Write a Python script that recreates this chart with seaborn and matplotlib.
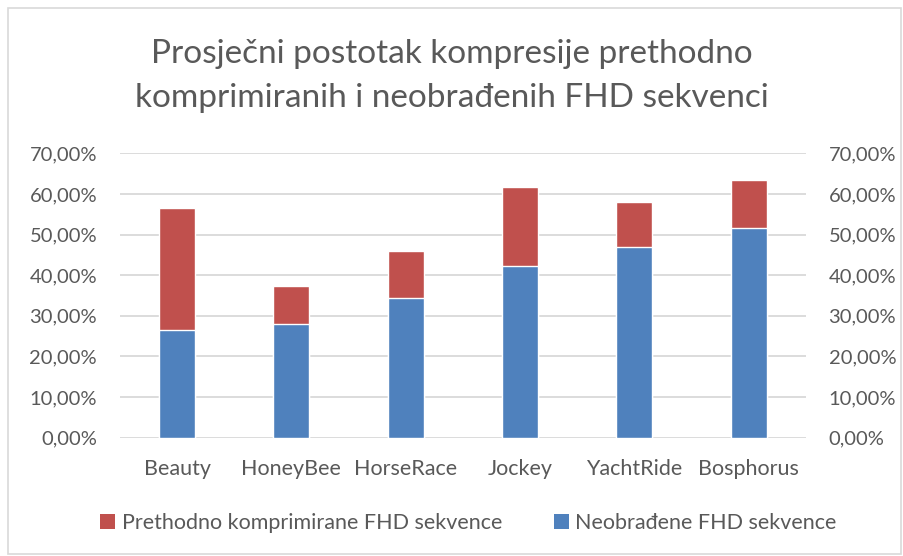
import matplotlib
matplotlib.use("Agg")
import matplotlib.pyplot as plt
import seaborn as sns
import pandas as pd
from matplotlib.ticker import FuncFormatter
from matplotlib.patches import Patch, Rectangle

categories = ["Beauty", "HoneyBee", "HorseRace", "Jockey", "YachtRide", "Bosphorus"]
neobradjene = [0.266, 0.279, 0.345, 0.423, 0.470, 0.515]
prethodno = [0.299, 0.094, 0.114, 0.194, 0.110, 0.119]
yticks = [0.0, 0.1, 0.2, 0.3, 0.4, 0.5, 0.6, 0.7]
title = "Prosječni postotak kompresije prethodno\nkomprimiranih i neobrađenih FHD sekvenci"
label_red = "Prethodno komprimirane FHD sekvence"
label_blue = "Neobrađene FHD sekvence"

sns.set_theme(style="white")
plt.rcParams["font.family"] = ["Lato", "DejaVu Sans"]

BLUE = "#4F81BD"
RED = "#C0504D"
TXT = "#595959"
GRID = "#D9D9D9"

df = pd.DataFrame({"cat": categories, "blue": neobradjene, "red": prethodno})
df["total"] = df["blue"] + df["red"]

fig = plt.figure(figsize=(9.04, 5.56), dpi=100)
fig.patches.append(Rectangle((0.009, 0.004), 0.988, 0.982, transform=fig.transFigure,
                             fill=False, edgecolor=GRID, linewidth=1.2))
ax = fig.add_axes([0.1327, 0.2128, 0.7585, 0.5115])

sns.barplot(data=df, x="cat", y="total", color=RED, width=0.315, ax=ax, saturation=1)
sns.barplot(data=df, x="cat", y="blue", color=BLUE, width=0.315, ax=ax, saturation=1)

ax.set_ylim(0, 0.7)
ax.set_xlim(-0.5, len(categories) - 0.5)
ax.set_yticks(yticks)
fmt = FuncFormatter(lambda v, p: f"{v*100:.2f}%".replace(".", ","))
ax.yaxis.set_major_formatter(fmt)
ax.set_xlabel("")
ax.set_ylabel("")
ax.grid(axis="y", color=GRID, linewidth=1.3)
ax.set_axisbelow(True)
for s in ax.spines.values():
    s.set_visible(False)
ax.tick_params(axis="both", length=0, labelcolor=TXT)
ax.tick_params(axis="y", pad=16.5, labelsize=14.5)
ax.tick_params(axis="x", pad=15, labelsize=15.5)

ax2 = ax.twinx()
ax2.set_ylim(0, 0.7)
ax2.set_yticks(yticks)
ax2.yaxis.set_major_formatter(fmt)
for s in ax2.spines.values():
    s.set_visible(False)
ax2.tick_params(axis="y", length=0, labelsize=14.5, labelcolor=TXT, pad=16.5)
ax2.grid(False)

fig.text(0.5, 0.863, title, ha="center", va="center", fontsize=24, color=TXT, linespacing=1.6)

handles = [Patch(facecolor=RED, edgecolor="none"), Patch(facecolor=BLUE, edgecolor="none")]
fig.legend(handles, [label_red, label_blue], loc="center", bbox_to_anchor=(0.518, 0.06),
           ncol=2, frameon=False, fontsize=15.5, labelcolor=TXT, handlelength=0.7,
           handleheight=0.7, handletextpad=0.3, columnspacing=2.4)

fig.savefig("out.png", dpi=100)
